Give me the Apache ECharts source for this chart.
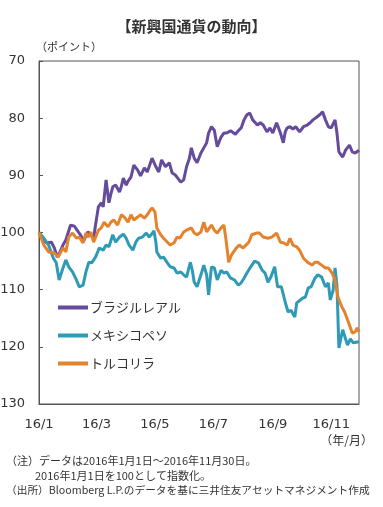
<!DOCTYPE html>
<html><head><meta charset="utf-8">
<script src="https://cdn.jsdelivr.net/npm/echarts@6/dist/echarts.min.js"></script>
<style>html,body{margin:0;padding:0;background:#fff}#c{width:383px;height:507px}</style>
</head><body><div id="c"></div>
<script>
// Days elapsed since 2016-01-01 and index values (2016/1/1 = 100)
const brlDays = [0,5,8,13,16,19,22,25,28,33,37,41,44,46,49,51,54,57,59,62,65,67,70,73,75,77,80,84,86,88,91,93,96,99,103,106,110,113,115,118,122,125,128,132,136,139,142,144,148,151,154,157,159,162,165,169,172,175,177,180,183,186,190,193,196,200,205,208,211,214,217,220,223,228,231,234,238,241,244,248,252,255,257,259,262,265,268,272,276,280,283,286,290,293,296,299,302,305,309,311,313,317,320,324,327,330,334];
const brlVals = [100.0,101.5,101.8,101.7,102.7,104.3,103.4,102.2,101.3,98.7,98.9,99.9,100.6,101.7,100.6,99.9,100.4,101.0,98.7,95.5,94.8,95.5,90.8,94.8,93.3,92.0,91.7,92.9,91.9,90.5,91.7,91.0,90.3,88.2,89.1,90.1,88.7,89.4,89.1,87.0,88.5,89.4,87.3,88.5,87.8,89.6,89.9,90.3,91.2,90.8,88.5,87.0,85.2,87.0,87.8,86.1,85.2,84.3,82.6,81.5,82.1,85.0,83.3,82.6,82.6,82.2,82.8,82.2,81.7,80.3,79.4,79.1,80.3,81.2,80.8,81.2,82.4,81.7,82.6,80.8,82.6,84.3,82.4,81.7,81.5,81.9,81.5,82.4,81.5,81.2,80.8,80.3,79.8,79.4,78.9,80.3,81.5,81.7,80.3,82.6,85.9,86.8,85.6,84.7,85.9,86.1,85.6];

const mxnDays = [0,5,10,15,18,21,25,28,31,35,39,42,46,49,52,55,59,63,67,70,73,77,80,84,88,91,94,98,101,104,108,112,115,117,120,122,123,127,130,134,137,141,144,148,151,154,158,160,162,165,169,172,175,177,180,183,186,190,193,196,200,204,208,211,214,217,221,225,229,233,236,239,242,246,249,253,257,260,263,267,269,275,278,281,284,288,291,295,299,302,304,307,309,310,311,313,317,322,325,328,334];
const mxnVals = [100.0,101.0,102.2,104.5,105.3,108.3,106.2,104.8,106.0,106.9,108.3,109.5,109.2,106.9,105.2,105.3,104.3,102.7,103.1,102.2,102.5,100.4,101.7,100.8,100.3,101.0,102.2,103.1,101.7,101.0,100.8,100.1,100.8,100.4,99.7,101.7,103.4,104.5,104.3,105.3,106.0,106.2,107.1,106.9,107.4,107.8,105.2,106.6,108.7,109.5,107.4,105.7,107.4,110.9,106.0,106.2,108.3,106.6,107.1,106.9,108.0,108.3,109.2,108.8,108.0,107.1,106.0,105.0,105.3,106.6,107.1,108.7,107.8,106.0,109.5,109.5,112.2,113.9,113.6,114.8,112.3,111.5,111.3,109.7,109.5,108.0,107.4,107.8,109.5,108.8,111.8,110.1,106.2,105.9,109.2,120.2,117.0,119.7,118.6,119.3,119.1];

const tryDays = [0,5,10,16,20,25,28,31,35,39,42,46,49,52,54,57,62,65,68,72,75,78,82,86,89,93,96,99,103,106,110,113,116,118,121,123,127,130,134,137,141,144,147,151,154,159,162,165,169,172,175,180,183,186,190,193,195,198,201,206,209,213,216,219,222,227,230,234,239,243,248,252,255,259,262,265,269,272,276,281,285,288,291,295,299,302,306,309,312,316,319,323,327,330,332,334];
const tryVals = [100.0,102.2,103.4,103.6,104.3,102.7,103.4,100.8,100.1,101.0,100.8,101.8,100.1,100.8,99.9,101.7,99.6,99.2,98.2,99.0,98.2,97.8,98.7,96.9,97.3,98.2,96.9,97.8,97.3,96.9,97.5,96.9,96.1,95.7,96.4,99.2,100.4,101.0,101.7,102.2,101.8,100.8,101.0,99.9,99.6,99.2,100.1,100.4,99.9,98.2,99.9,98.7,99.6,100.1,99.2,98.7,101.0,105.2,103.9,102.7,102.2,102.7,102.2,101.7,100.4,100.1,100.1,100.8,101.0,100.8,100.1,101.7,101.8,102.2,101.0,102.2,102.5,103.1,104.5,105.3,105.7,105.2,105.2,105.7,106.2,106.2,107.1,108.3,111.3,113.0,113.9,115.7,117.6,117.4,116.7,117.4];

const seriesNames = ['ブラジルレアル','メキシコペソ','トルコリラ'];
const tickDates = ['2016-01-01','2016-03-01','2016-05-01','2016-07-01','2016-09-01','2016-11-01'];
const tickLabels = ['16/1','16/3','16/5','16/7','16/9','16/11'];
const yTicks = [70,80,90,100,110,120,130];
const lastDay = 334; // 2016-11-30

const DAY = 86400000;
const T0 = Date.UTC(2016,0,1);
const toDay = s => { const p = s.split('-').map(Number); return Math.round((Date.UTC(p[0], p[1]-1, p[2]) - T0)/DAY); };
const tickDays = tickDates.map(toDay);
const mk = (days, vals) => days.map((d,i) => [d, vals[i]]);

const NUM = "'DejaVu Sans'";
const JP = "'Noto Sans CJK JP'";
const colors = ['#654b9b','#2f9ab6','#e4832e'];

const baseGraphic = [
  {type:'text', left:36, top:41, style:{text:'（ポイント）', font:"11px 'Noto Sans CJK JP'", fill:'#333'}},
  {type:'text', right:10, top:434, style:{text:'（年/月）', font:"12px 'Noto Sans CJK JP'", fill:'#333'}},
  {type:'text', left:6, top:455, style:{text:'（注）データは2016年1月1日～2016年11月30日。', font:"11px 'Noto Sans CJK JP'", fill:'#333'}},
  {type:'text', left:35, top:470, style:{text:'2016年1月1日を100として指数化。', font:"11px 'Noto Sans CJK JP'", fill:'#333'}},
  {type:'text', left:6, top:485, style:{text:'（出所）Bloomberg L.P.のデータを基に三井住友アセットマネジメント作成', font:"10.7px 'Noto Sans CJK JP'", fill:'#333'}}
];

const chart = echarts.init(document.getElementById('c'), null, {renderer:'canvas'});
chart.setOption({
  animation:false,
  color: colors,
  title:{text:'【新興国通貨の動向】', left:'center', top:14,
    textStyle:{fontFamily:JP, fontSize:15, fontWeight:'bold', color:'#333'}},
  grid:{left:39, right:24, top:61, bottom:103, show:true, borderColor:'#555', borderWidth:1},
  legend:{orient:'vertical', left:53, top:296, itemWidth:30, itemHeight:4, itemGap:15,
    icon:'rect', data:seriesNames,
    textStyle:{fontFamily:JP, fontSize:13, color:'#333', padding:[0,0,0,-3]}},
  xAxis:{type:'value', min:0, max:lastDay,
    axisLine:{show:true, lineStyle:{color:'#555'}},
    axisTick:{show:false},
    splitLine:{show:false},
    axisLabel:{customValues:tickDays, margin:14, fontFamily:NUM, fontSize:13, color:'#333',
      formatter:(v)=>{const i=tickDays.indexOf(v); return i>=0?tickLabels[i]:'';}}
  },
  yAxis:{type:'value', inverse:true, min:yTicks[0], max:yTicks[yTicks.length-1], interval:10,
    axisLine:{show:true, lineStyle:{color:'#555'}},
    axisTick:{show:true, inside:true, length:4, lineStyle:{color:'#555'}},
    splitLine:{show:false},
    axisLabel:{show:false}
  },
  graphic: baseGraphic,
  series:[
    {name:seriesNames[0], type:'line', data:mk(brlDays,brlVals), showSymbol:false, lineStyle:{width:3}},
    {name:seriesNames[1], type:'line', data:mk(mxnDays,mxnVals), showSymbol:false, lineStyle:{width:3}},
    {name:seriesNames[2], type:'line', data:mk(tryDays,tryVals), showSymbol:false, lineStyle:{width:3}}
  ]
});

// Y tick labels placed through the library's own y scale, left of the axis
const axisX = chart.convertToPixel({xAxisIndex:0}, 0);
const yLabelGraphic = yTicks.map(v => ({
  type:'text', x: axisX - 14, y: chart.convertToPixel({yAxisIndex:0}, v),
  style:{text:String(v), align:'right', verticalAlign:'middle', font:"13px 'DejaVu Sans'", fill:'#333'}
}));
chart.setOption({graphic: baseGraphic.concat(yLabelGraphic)});
</script></body></html>
